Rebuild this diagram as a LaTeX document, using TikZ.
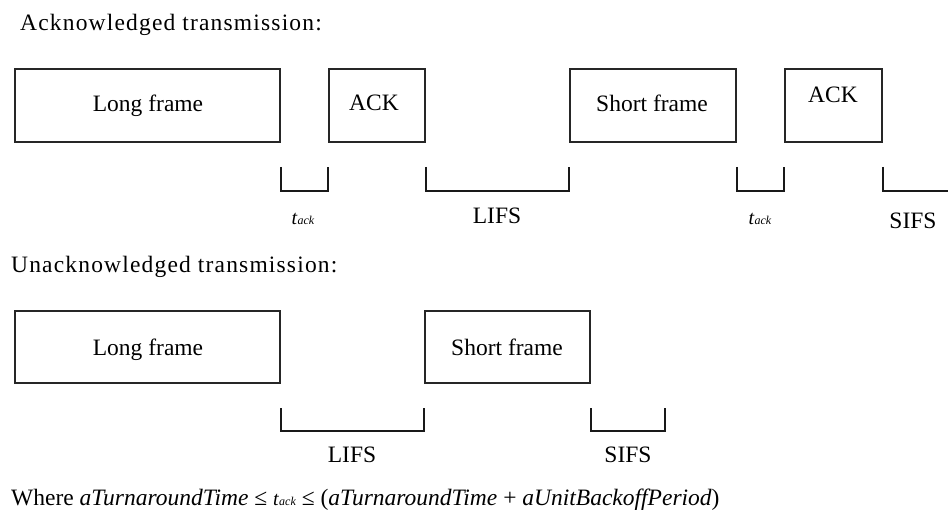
\documentclass[tikz,border=0pt]{standalone}
\usepackage{fontspec}
\setmainfont{Liberation Serif}
\newcommand{\tack}{{\fontsize{20}{20}\selectfont\textit{t}}{\fontsize{12}{12}\selectfont\textit{ack}}}
\begin{document}
\begin{tikzpicture}[x=1pt,y=-1pt,
  frame/.style={draw=black!85, line width=1.6pt, inner sep=0pt},
  lbl/.style={font=\fontsize{23.5}{28}\selectfont, inner sep=0pt, anchor=base},
  ttl/.style={font=\fontsize{23.5}{28}\selectfont\addfontfeature{LetterSpace=5}, inner sep=0pt, anchor=base west},
  brk/.style={draw=black!90, line width=1.6pt}]
\useasboundingbox[fill=white] (0,0) rectangle (948,516);

% titles
\node[ttl] (t1) at (20,31) {Acknowledged transmission:};
\node[ttl] (t2) at (11,272) {Unacknowledged transmission:};

% top row boxes
\node[frame, minimum width=265pt, minimum height=73pt] (lf1) at (147.5,105.5) {};
\node[frame, minimum width=96pt, minimum height=73pt] (ack1) at (377,105.5) {};
\node[frame, minimum width=166pt, minimum height=73pt] (sf1) at (653,105.5) {};
\node[frame, minimum width=97pt, minimum height=73pt] (ack2) at (833.5,105.5) {};
\node[lbl] (lf1t) at (148,112) {Long frame};
\node[lbl] (ack1t) at (374,111) {ACK};
\node[lbl] (sf1t) at (652,112) {Short frame};
\node[lbl] (ack2t) at (833,103) {ACK};

% top row brackets
\draw[brk] (lf1.east |- 0,167) -- (lf1.east |- 0,191) -- (ack1.west |- 0,191) -- (ack1.west |- 0,167);
\draw[brk] (ack1.east |- 0,167) -- (ack1.east |- 0,191) -- (sf1.west |- 0,191) -- (sf1.west |- 0,167);
\draw[brk] (sf1.east |- 0,167) -- (sf1.east |- 0,191) -- (ack2.west |- 0,191) -- (ack2.west |- 0,167);
\coordinate (sifsend) at (948,191);
\draw[brk] (ack2.east |- 0,167) -- (ack2.east |- 0,191) -- (sifsend);
\node[lbl] (ta1) at (303,224) {\tack};
\node[lbl] (lifs1) at (497,223) {LIFS};
\node[lbl] (ta2) at (760,224) {\tack};
\node[lbl] (sifs1) at (913,228) {SIFS};

% bottom row boxes
\node[frame, minimum width=265pt, minimum height=72pt] (lf2) at (147.5,347) {};
\node[frame, minimum width=165pt, minimum height=72pt] (sf2) at (507.5,347) {};
\node[lbl] (lf2t) at (148,355) {Long frame};
\node[lbl] (sf2t) at (507,355) {Short frame};

% bottom row brackets
\coordinate (sifs2end) at (665,431);
\draw[brk] (lf2.east |- 0,408) -- (lf2.east |- 0,431) -- (sf2.west |- 0,431) -- (sf2.west |- 0,408);
\draw[brk] (sf2.east |- 0,408) -- (sf2.east |- 0,431) -- (sifs2end) -- ++(0,-23);
\node[lbl] (lifs2) at (352,462) {LIFS};
\node[lbl] (sifs2) at (628,462) {SIFS};

% formula
\node[lbl, anchor=base west] (eq) at (11,505) {Where \textit{aTurnaroundTime} ≤ \tack{} ≤ (\textit{aTurnaroundTime} + \textit{aUnitBackoffPeriod})};
\end{tikzpicture}
\end{document}
